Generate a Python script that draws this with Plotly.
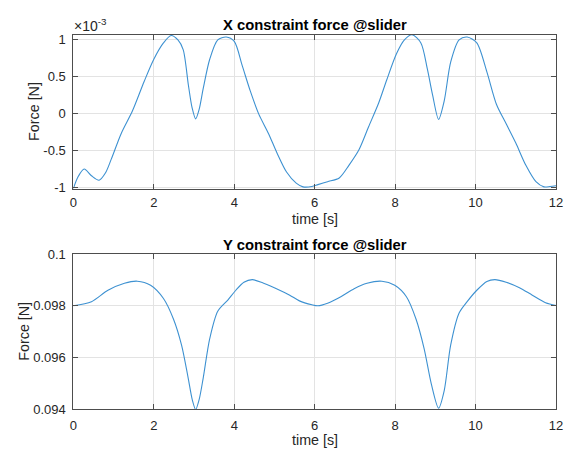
import plotly.graph_objects as go

# Time samples and constraint forces at the slider
t_x = [0.00, 0.12, 0.27, 0.45, 0.64, 0.80, 0.94, 1.19, 1.47, 1.76, 2.00, 2.24, 2.43,
       2.60, 2.73, 2.86, 2.95, 3.04, 3.13, 3.23, 3.39, 3.59, 3.80, 4.00, 4.20, 4.40,
       4.61, 4.85, 5.06, 5.30, 5.54, 5.71, 5.93, 6.08, 6.32, 6.61, 6.85, 7.10, 7.34,
       7.59, 7.79, 8.03, 8.23, 8.42, 8.64, 8.80, 8.93, 9.08, 9.22, 9.38, 9.59, 9.79,
       10.03, 10.28, 10.52, 10.76, 11.00, 11.25, 11.50, 11.70, 11.85, 12.00]
# X force in units of 1e-3 N
fx_milli = [-1.012, -0.85, -0.75, -0.84, -0.90, -0.80, -0.62, -0.27, 0.035, 0.43, 0.73,
            0.95, 1.05, 0.99, 0.86, 0.38, 0.08, -0.074, 0.06, 0.34, 0.73, 0.99, 1.03,
            0.97, 0.64, 0.30, -0.01, -0.27, -0.53, -0.79, -0.94, -0.99, -0.985, -0.96,
            -0.92, -0.87, -0.70, -0.49, -0.18, 0.14, 0.45, 0.80, 0.99, 1.06, 0.95, 0.60,
            0.25, -0.08, 0.17, 0.69, 0.99, 1.03, 0.95, 0.56, 0.12, -0.14, -0.40, -0.70,
            -0.92, -0.99, -0.985, -0.975]

t_y = [0.00, 0.45, 0.86, 1.27, 1.59, 1.92, 2.24, 2.49, 2.69, 2.85, 2.96, 3.04, 3.13,
       3.23, 3.39, 3.59, 3.84, 4.04, 4.24, 4.45, 4.73, 5.05, 5.38, 5.62, 5.93, 6.08,
       6.32, 6.65, 6.98, 7.30, 7.67, 7.99, 8.28, 8.52, 8.72, 8.90, 9.08, 9.22, 9.38,
       9.59, 9.79, 10.03, 10.28, 10.48, 10.76, 11.09, 11.41, 11.74, 12.00]
fy = [0.09800, 0.09816, 0.09860, 0.09887, 0.09895, 0.09879, 0.09828, 0.09748, 0.09648,
      0.09525, 0.09435, 0.09400, 0.09440, 0.09523, 0.09673, 0.09779, 0.09822, 0.09860,
      0.09891, 0.09901, 0.09887, 0.09866, 0.09841, 0.09819, 0.09804, 0.09800, 0.09810,
      0.09835, 0.09866, 0.09887, 0.09895, 0.09879, 0.09835, 0.09748, 0.09635, 0.09498,
      0.09405, 0.09473, 0.09648, 0.09772, 0.09816, 0.09860, 0.09894, 0.09901, 0.09891,
      0.09870, 0.09841, 0.09812, 0.09801]

x_ticks = [0, 2, 4, 6, 8, 10, 12]
fx_ticks = [-1, -0.5, 0, 0.5, 1]
fx_tick_text = ["-1", "-0.5", "0", "0.5", "1"]
fy_ticks = [0.094, 0.096, 0.098, 0.1]
fy_tick_text = ["0.094", "0.096", "0.098", "0.1"]

W, H = 581, 460
FONT = "Liberation Sans, Arial, Helvetica, sans-serif"
INK = "#262626"
LINE = "#3d91d1"

fig = go.Figure()
fig.add_trace(go.Scatter(x=t_x, y=fx_milli, mode="lines", xaxis="x", yaxis="y",
                         line=dict(color=LINE, width=1.1, shape="spline", smoothing=0.8),
                         showlegend=False, hoverinfo="skip"))
fig.add_trace(go.Scatter(x=t_y, y=fy, mode="lines", xaxis="x2", yaxis="y2",
                         line=dict(color=LINE, width=1.1, shape="spline", smoothing=0.8),
                         showlegend=False, hoverinfo="skip"))

xdom = [70.7 / W, 562.7 / W]
top_dom = [1 - 188 / H, 1 - 28.7 / H]
bot_dom = [1 - 416 / H, 1 - 255.3 / H]

axis_common = dict(
    showline=True, linecolor="#4d4d4d", linewidth=1, mirror="allticks",
    ticks="inside", ticklen=5, tickcolor="#4d4d4d", tickwidth=1,
    showgrid=True, gridcolor="#e3e3e3", gridwidth=1, zeroline=False,
    tickfont=dict(family=FONT, size=13, color=INK),
)

fig.update_layout(
    width=W, height=H,
    margin=dict(l=0, r=0, t=0, b=0),
    paper_bgcolor="white", plot_bgcolor="white",
    xaxis=dict(domain=xdom, anchor="y", range=[0, 12], tickvals=x_ticks,
               ticklabelstandoff=2, **axis_common),
    yaxis=dict(domain=top_dom, anchor="x", range=[-1.017, 1.06],
               tickvals=fx_ticks, ticktext=fx_tick_text, ticklabelstandoff=4, **axis_common),
    xaxis2=dict(domain=xdom, anchor="y2", range=[0, 12], tickvals=x_ticks,
                ticklabelstandoff=4, **axis_common),
    yaxis2=dict(domain=bot_dom, anchor="x2", range=[0.094, 0.1],
                tickvals=fy_ticks, ticktext=fy_tick_text, ticklabelstandoff=4, **axis_common),
)

xc = (xdom[0] + xdom[1]) / 2
label_font = dict(family=FONT, size=14.3, color=INK)
title_font = dict(family=FONT, size=14.8, color="black")

annotations = [
    dict(text="<b>X constraint force @slider</b>", x=xc, y=1 - 18.5 / H, font=title_font),
    dict(text="<b>Y constraint force @slider</b>", x=xc, y=1 - 246 / H, font=title_font),
    dict(text="time [s]", x=xc, y=1 - 219 / H, font=label_font),
    dict(text="time [s]", x=xc, y=1 - 448 / H, font=label_font),
    dict(text="Force [N]", x=31 / W, y=1 - 108 / H, textangle=-90, font=label_font),
    dict(text="Force [N]", x=20 / W, y=1 - 335 / H, textangle=-90, font=label_font),
]
for a in annotations:
    fig.add_annotation(xref="paper", yref="paper", showarrow=False,
                       xanchor="center", yanchor="middle", **a)

# Exponent multiplier shown above the top-left corner of the X-force axes
fig.add_annotation(xref="paper", yref="paper", showarrow=False,
                   x=69 / W, y=1 - 19 / H, xanchor="left", yanchor="middle",
                   text="×10<sup>-3</sup>", font=dict(family=FONT, size=14, color=INK))

fig.write_html("out.html")
